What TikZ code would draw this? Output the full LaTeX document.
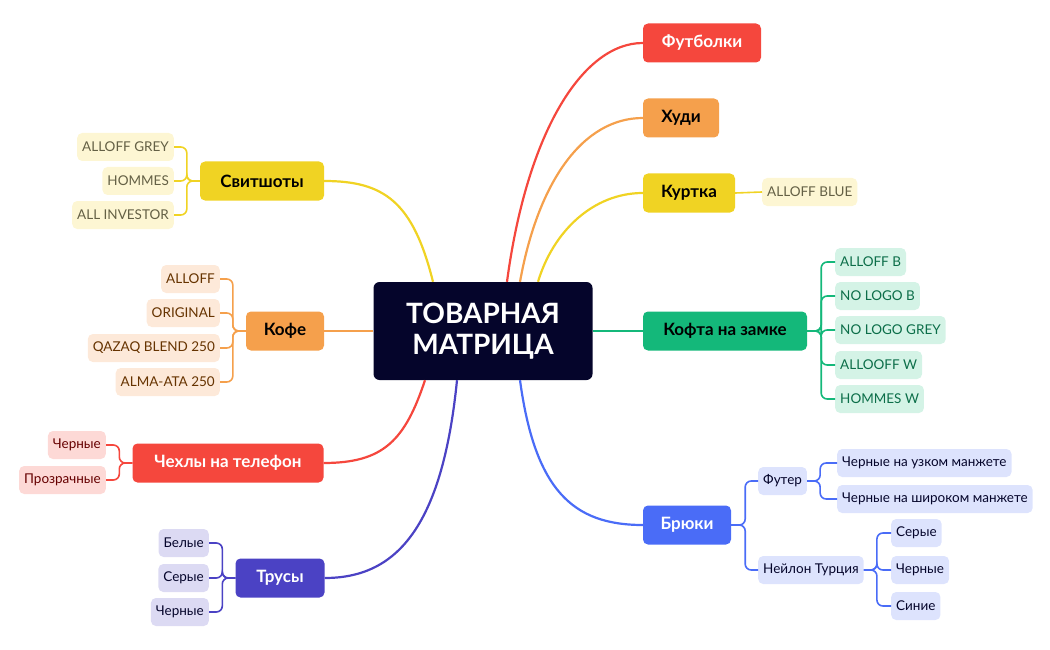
\documentclass[tikz,border=0pt]{standalone}
\usepackage{fontspec}
\setmainfont{Lato}
\definecolor{cnavy}{HTML}{05052B}
\definecolor{cred}{HTML}{F5473D}
\definecolor{corange}{HTML}{F5A04C}
\definecolor{cyellow}{HTML}{F0D323}
\definecolor{cgreen}{HTML}{14B87A}
\definecolor{cblue}{HTML}{4A6CF7}
\definecolor{cpurple}{HTML}{4B42C4}
\definecolor{lyellow}{HTML}{FDF6D3}
\definecolor{lorange}{HTML}{FDE9D9}
\definecolor{lred}{HTML}{FDD9D6}
\definecolor{lgreen}{HTML}{D4F3E6}
\definecolor{lblue}{HTML}{DDE3FD}
\definecolor{lpurple}{HTML}{DCDAF3}
\begin{document}
\begin{tikzpicture}[x=1pt,y=-1pt,
  main/.style={rounded corners=5pt,minimum height=39pt,inner xsep=16pt,font=\fontsize{17}{19}\selectfont\bfseries},
  leaf/.style={rounded corners=5pt,minimum height=28pt,inner xsep=5pt,font=\fontsize{13.5}{15}\selectfont},
  link/.style={line width=2.2pt},
  br/.style={line width=1.6pt,rounded corners=6pt}]
\useasboundingbox (0,0) rectangle (1050,650);
\node[fill=cnavy,rounded corners=6pt,minimum width=219pt,minimum height=98pt,text=white,align=center,font=\fontsize{28}{31}\selectfont\bfseries] (c) at (483,331) {ТОВАРНАЯ\\МАТРИЦА};
% right side
\node[main,fill=cred,text=white,minimum width=118pt] (fut) at (702,43) {Футболки};
\node[main,fill=corange,minimum width=76pt] (hud) at (681,118) {Худи};
\node[main,fill=cyellow,minimum width=92pt] (kur) at (689,193) {Куртка};
\node[leaf,fill=lyellow,text=yellow!30!black,anchor=west] (kur1) at (762,192) {ALLOFF BLUE};
\node[main,fill=cgreen,minimum width=164pt] (kof) at (725,331) {Кофта на замке};
\foreach \n/\y/\t in {g1/262/ALLOFF B,g2/296/NO LOGO B,g3/330/NO LOGO GREY,g4/365/ALLOOFF W,g5/399/HOMMES W}
  \node[leaf,fill=lgreen,text=cgreen!60!black,anchor=west] (\n) at (835,\y) {\t};
\node[main,fill=cblue,text=white,minimum width=88pt] (bru) at (687,525) {Брюки};
\node[leaf,fill=lblue,text=cnavy,anchor=west] (futr) at (758,481) {Футер};
\node[leaf,fill=lblue,text=cnavy,anchor=west] (neil) at (758,570) {Нейлон Турция};
\node[leaf,fill=lblue,text=cnavy,anchor=west] (f1) at (837,463) {Черные на узком манжете};
\node[leaf,fill=lblue,text=cnavy,anchor=west] (f2) at (837,499) {Черные на широком манжете};
\node[leaf,fill=lblue,text=cnavy,anchor=west] (n1) at (891,533) {Серые};
\node[leaf,fill=lblue,text=cnavy,anchor=west] (n2) at (891,570) {Черные};
\node[leaf,fill=lblue,text=cnavy,anchor=west] (n3) at (891,606) {Синие};
% left side
\node[main,fill=cyellow,minimum width=124pt] (svi) at (262,181) {Свитшоты};
\node[leaf,fill=lyellow,text=yellow!30!black,anchor=east] (s1) at (174,147) {ALLOFF GREY};
\node[leaf,fill=lyellow,text=yellow!30!black,anchor=east] (s2) at (174,181) {HOMMES};
\node[leaf,fill=lyellow,text=yellow!30!black,anchor=east] (s3) at (174,215) {ALL INVESTOR};
\node[main,fill=corange,minimum width=78pt] (kofe) at (285,331) {Кофе};
\foreach \n/\y/\t in {k1/279/ALLOFF,k2/313/ORIGINAL,k3/348/QAZAQ BLEND 250,k4/382/ALMA-ATA 250}
  \node[leaf,fill=lorange,text=orange!40!black,anchor=east] (\n) at (220,\y) {\t};
\node[main,fill=cred,text=white,minimum width=191pt] (che) at (228,463) {Чехлы на телефон};
\node[leaf,fill=lred,text=red!40!black,anchor=east] (c1) at (106,445) {Черные};
\node[leaf,fill=lred,text=red!40!black,anchor=east] (c2) at (106,480) {Прозрачные};
\node[main,fill=cpurple,text=white,minimum width=89pt] (tru) at (280,578) {Трусы};
\node[leaf,fill=lpurple,text=cnavy,anchor=east] (t1) at (209,543) {Белые};
\node[leaf,fill=lpurple,text=cnavy,anchor=east] (t2) at (209,578) {Серые};
\node[leaf,fill=lpurple,text=cnavy,anchor=east] (t3) at (209,612) {Черные};
% main links
\draw[link,cred] ([xshift=24pt]c.north) .. controls +(20,-150) and +(-60,0) .. (fut.west);
\draw[link,corange] ([xshift=37pt]c.north) .. controls +(18,-100) and +(-60,0) .. (hud.west);
\draw[link,cyellow] ([xshift=55pt]c.north) .. controls +(15,-50) and +(-50,0) .. (kur.west);
\draw[link,cgreen] (c.east) -- (kof.west);
\draw[link,cblue] ([xshift=37pt]c.south) .. controls +(15,110) and +(-70,0) .. (bru.west);
\draw[link,cyellow] ([xshift=-50pt]c.north) .. controls +(-20,-80) and +(60,0) .. (svi.east);
\draw[link,corange] (c.west) -- (kofe.east);
\draw[link,cred] ([xshift=-58pt]c.south) .. controls +(-20,60) and +(60,0) .. (che.east);
\draw[link,cpurple] ([xshift=-26pt]c.south) .. controls +(-15,150) and +(70,0) .. (tru.east);
% brackets
\draw[br,cyellow] (kur.east) -- (kur1.west);
\foreach \n in {g1,g2,g3,g4,g5} \draw[br,cgreen] (kof.east) -- ++(14,0) |- (\n.west);
\foreach \n in {futr,neil} \draw[br,cblue] (bru.east) -- ++(14,0) |- (\n.west);
\foreach \n in {f1,f2} \draw[br,cblue] (futr.east) -- ++(13,0) |- (\n.west);
\foreach \n in {n1,n2,n3} \draw[br,cblue] (neil.east) -- ++(13,0) |- (\n.west);
\foreach \n in {s1,s2,s3} \draw[br,cyellow] (svi.west) -- ++(-13,0) |- (\n.east);
\foreach \n in {k1,k2,k3,k4} \draw[br,corange] (kofe.west) -- ++(-13,0) |- (\n.east);
\foreach \n in {c1,c2} \draw[br,cred] (che.west) -- ++(-13,0) |- (\n.east);
\foreach \n in {t1,t2,t3} \draw[br,cpurple] (tru.west) -- ++(-13,0) |- (\n.east);
\end{tikzpicture}
\end{document}
